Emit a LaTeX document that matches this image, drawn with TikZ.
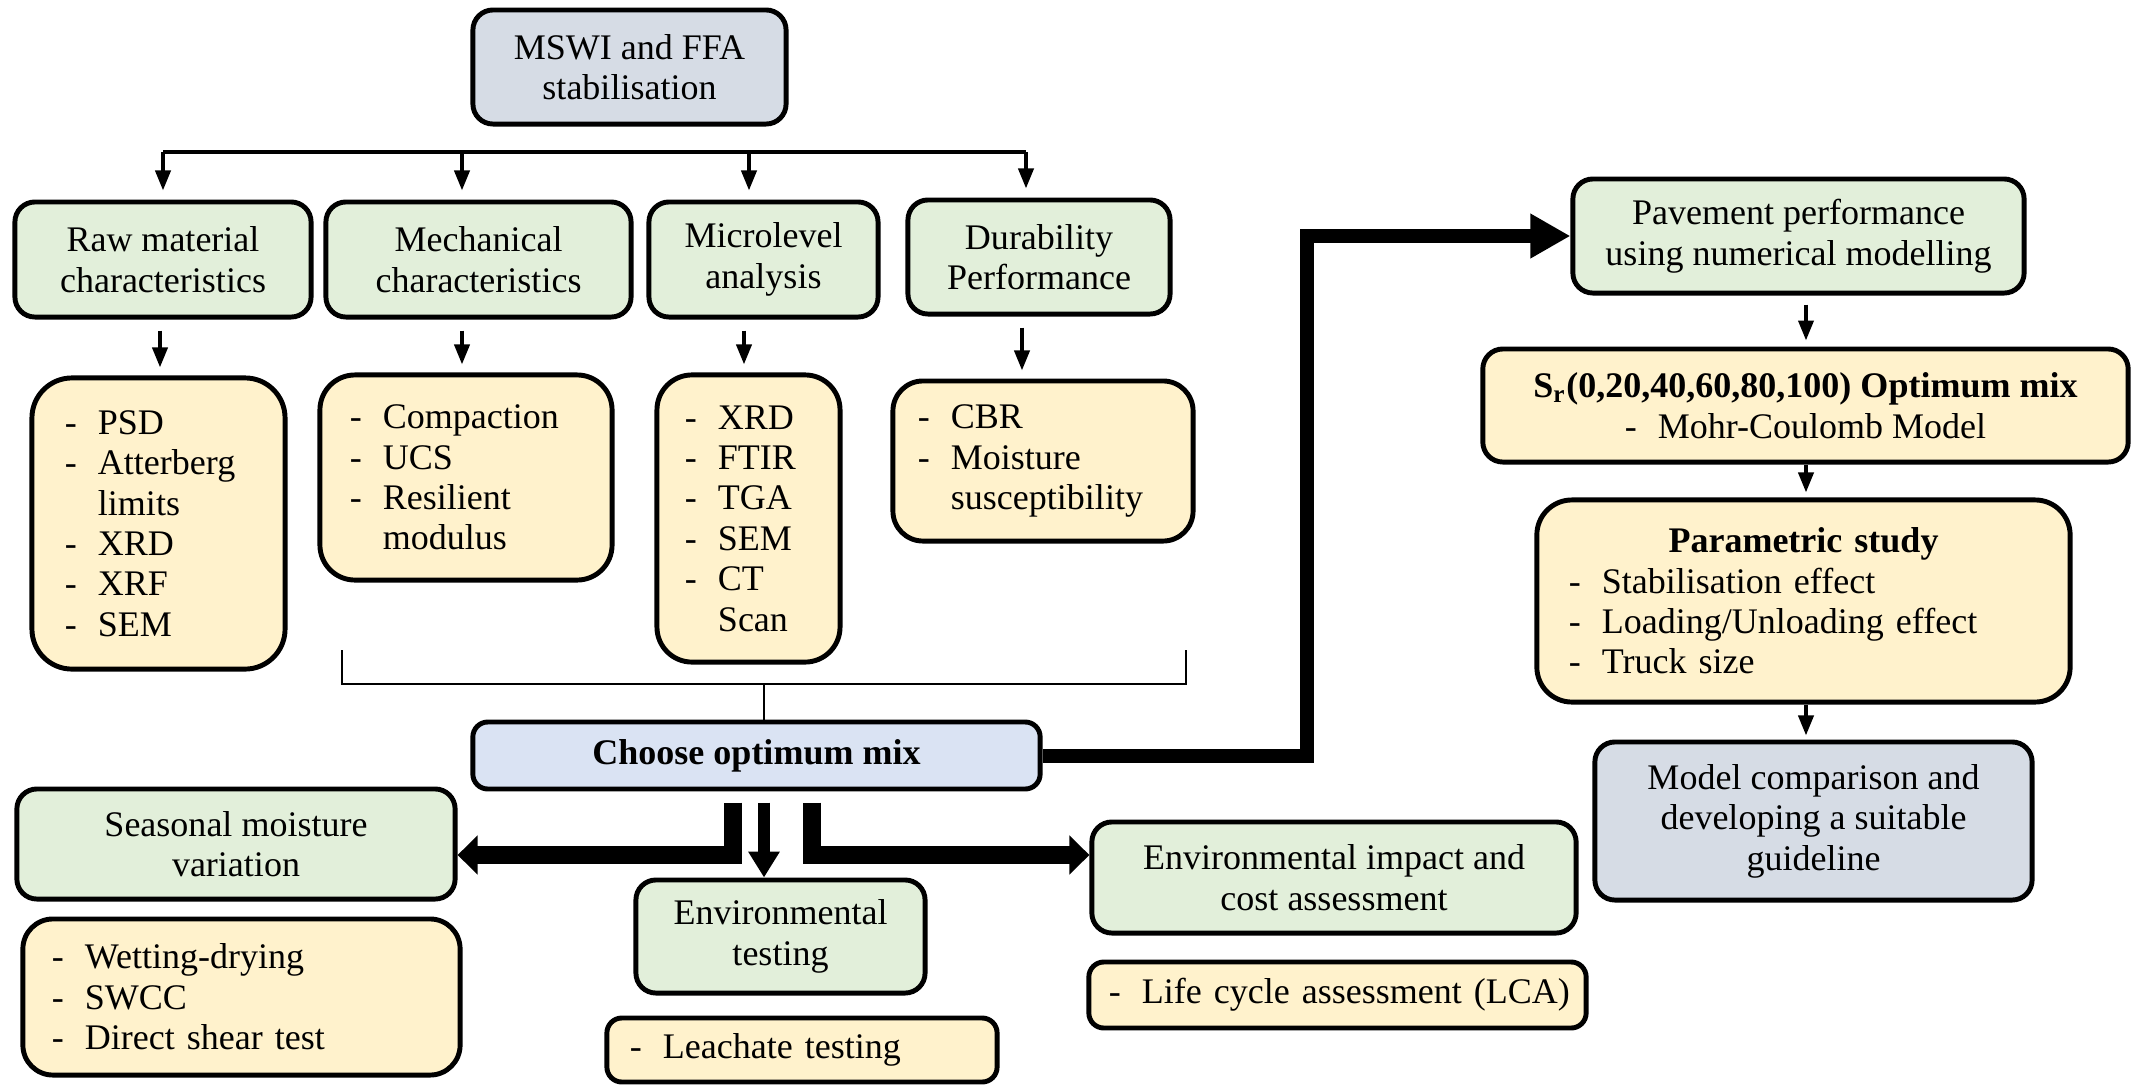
\documentclass[tikz,border=0pt]{standalone}
\usepackage{fontspec}
\setmainfont{Liberation Serif}
\usetikzlibrary{arrows.meta}
\definecolor{gfill}{HTML}{E2EFDA}
\definecolor{yfill}{HTML}{FFF2CC}
\definecolor{bfill}{HTML}{D6DCE5}
\definecolor{cfill}{HTML}{DAE3F3}
\newcommand\dsh{\makebox[0.33cm][l]{-}}
\newcommand\ind{\hspace*{0.33cm}}
\begin{document}
\begin{tikzpicture}[x=0.01cm,y=-0.01cm,
  every node/.style={font=\fontsize{10.24pt}{11.5pt}\selectfont},
  boxbase/.style={draw, line width=1.4pt, inner sep=0pt},
  gbox/.style={boxbase, fill=gfill, rounded corners=0.2cm, align=center},
  ybox/.style={boxbase, fill=yfill, rounded corners=0.3cm, align=left},
  bbox/.style={boxbase, fill=bfill, rounded corners=0.2cm, align=center},
  thinline/.style={line width=1.1pt},
  arr/.style={line width=1.1pt, -{Triangle[width=0.15cm,length=0.2cm]}},
  bigarr/.style={line width=0.14cm, line join=miter, -{Triangle[width=0.42cm,length=0.40cm]}},
  widearr/.style={line width=0.175cm, line join=miter, -{Triangle[width=0.38cm,length=0.2cm]}},
  midarr/.style={line width=0.12cm, -{Triangle[width=0.30cm,length=0.26cm]}},
  bracket/.style={line width=0.7pt}
]
\fill[white] (0,0) rectangle (2132,1084);
\useasboundingbox (0,0) rectangle (2132,1084);

% top
\node[bbox, minimum width=3.13cm, minimum height=1.14cm] (mswi) at (629.5,67) {MSWI and FFA\\stabilisation};

% green row
\node[gbox, minimum width=2.96cm, minimum height=1.15cm] (rawG) at (163,259.5) {Raw material\\characteristics};
\node[gbox, minimum width=3.05cm, minimum height=1.15cm] (mechG) at (478.5,259.5) {Mechanical\\characteristics};
\node[gbox, minimum width=2.29cm, minimum height=1.15cm] (microG) at (763.5,259.5) {Microlevel\\analysis};
\node[gbox, minimum width=2.62cm, minimum height=1.14cm] (durG) at (1039,257) {Durability\\Performance};

% yellow row
\node[ybox, text width=1.87cm, inner xsep=0.33cm, minimum height=2.91cm, rounded corners=0.4cm] (rawY) at (158.5,523.5)
  {\dsh PSD\\\dsh Atterberg\\\ind limits\\\dsh XRD\\\dsh XRF\\\dsh SEM};
\node[ybox, text width=2.32cm, inner xsep=0.30cm, minimum height=2.05cm, rounded corners=0.35cm] (mechY) at (466,477.5)
  {\dsh Compaction\\\dsh UCS\\\dsh Resilient\\\ind modulus};
\node[ybox, text width=1.27cm, inner xsep=0.28cm, minimum height=2.87cm, rounded corners=0.35cm] (microY) at (748.5,518.5)
  {\dsh XRD\\\dsh FTIR\\\dsh TGA\\\dsh SEM\\\dsh CT\\\ind Scan};
\node[ybox, text width=2.50cm, inner xsep=0.25cm, minimum height=1.60cm] (durY) at (1043,461)
  {\dsh CBR\\\dsh Moisture\\\ind susceptibility};

% choose
\node[boxbase, fill=cfill, rounded corners=0.15cm, minimum width=5.67cm, minimum height=0.67cm] (choose) at (756.5,755.5) {\bfseries Choose optimum mix};

% bottom left / middle
\node[gbox, minimum width=4.38cm, minimum height=1.10cm] (seasG) at (236,844) {Seasonal moisture\\variation};
\node[ybox, text width=3.79cm, inner xsep=0.29cm, minimum height=1.56cm] (seasY) at (241.5,997)
  {\dsh Wetting-drying\\\dsh SWCC\\\dsh Direct shear test};
\node[gbox, minimum width=2.89cm, minimum height=1.13cm] (envT) at (780.5,936.5) {Environmental\\testing};
\node[ybox, text width=3.44cm, inner xsep=0.23cm, minimum height=0.64cm, rounded corners=0.15cm] (leach) at (802,1050)
  {\dsh Leachate testing};
\node[gbox, minimum width=4.84cm, minimum height=1.11cm] (envI) at (1334,877.5) {Environmental impact and\\cost assessment};
\node[ybox, text width=4.57cm, inner xsep=0.20cm, minimum height=0.66cm, rounded corners=0.15cm] (lca) at (1337.5,995)
  {\mbox{\dsh Life cycle assessment (LCA)}};

% right column
\node[gbox, minimum width=4.51cm, minimum height=1.14cm] (pav) at (1798.5,236) {Pavement performance\\using numerical modelling};
\node[ybox, align=center, minimum width=6.45cm, minimum height=1.13cm, rounded corners=0.2cm] (sr) at (1805.5,405.5)
  {{\bfseries S\textsubscript{r}(0,20,40,60,80,100) Optimum mix}\\\dsh Mohr-Coulomb Model};
\node[ybox, text width=4.69cm, inner xsep=0.32cm, minimum height=2.02cm, rounded corners=0.35cm] (param) at (1803.5,601)
  {\makebox[\linewidth]{\bfseries Parametric study}\\\dsh Stabilisation effect\\\dsh Loading/Unloading effect\\\dsh Truck size};
\node[bbox, minimum width=4.37cm, minimum height=1.58cm] (model) at (1813.5,821) {Model comparison and\\developing a suitable\\guideline};

% top distribution bar
\coordinate (bar1) at (163,152);
\coordinate (bar2) at (462,152);
\coordinate (bar3) at (749,152);
\coordinate (bar4) at (1026,152);
\draw[thinline] (bar1) -- (bar4);
\draw[arr, shorten >=0.09cm] (bar1) -- (bar1 |- rawG.north);
\draw[arr, shorten >=0.09cm] (bar2) -- (bar2 |- mechG.north);
\draw[arr, shorten >=0.09cm] (bar3) -- (bar3 |- microG.north);
\draw[arr, shorten >=0.09cm] (bar4) -- (bar4 |- durG.north);

% green -> yellow
\coordinate (c1) at (160,0);
\coordinate (c2) at (462,0);
\coordinate (c3) at (744,0);
\coordinate (c4) at (1022,0);
\draw[arr, shorten <=0.11cm, shorten >=0.08cm] (rawG.south -| c1) -- (rawY.north -| c1);
\draw[arr, shorten <=0.11cm, shorten >=0.08cm] (mechG.south -| c2) -- (mechY.north -| c2);
\draw[arr, shorten <=0.11cm, shorten >=0.08cm] (microG.south -| c3) -- (microY.north -| c3);
\draw[arr, shorten <=0.11cm, shorten >=0.08cm] (durG.south -| c4) -- (durY.north -| c4);

% bracket
\coordinate (brL) at (342,650);
\coordinate (brR) at (1186,650);
\coordinate (brM) at (764,684);
\draw[bracket] (brL) |- (brM) -| (brR);
\draw[bracket] (brM) -- (brM |- choose.north);

% big loop to pavement
\coordinate (loopx) at (1307,0);
\draw[bigarr] (choose.east) -- (choose.east -| loopx) -- (pav.west -| loopx) -- (pav.west);

% arrows below choose
\coordinate (lx) at (733,855);
\coordinate (mx) at (764,0);
\coordinate (rx) at (812,855);
\draw[widearr, shorten <=0.11cm] (choose.south -| lx) -- (lx) -- (lx -| seasG.east);
\draw[midarr, shorten <=0.11cm] (choose.south -| mx) -- (mx |- envT.north);
\draw[widearr, shorten <=0.11cm] (choose.south -| rx) -- (rx) -- (rx -| envI.west);

% right column arrows
\coordinate (rc) at (1806,0);
\draw[arr, shorten <=0.09cm, shorten >=0.06cm] (pav.south -| rc) -- (sr.north -| rc);
\draw[arr, shorten >=0.05cm] (sr.south -| rc) -- (param.north -| rc);
\draw[arr, shorten >=0.04cm] (param.south -| rc) -- (model.north -| rc);
\end{tikzpicture}
\end{document}
